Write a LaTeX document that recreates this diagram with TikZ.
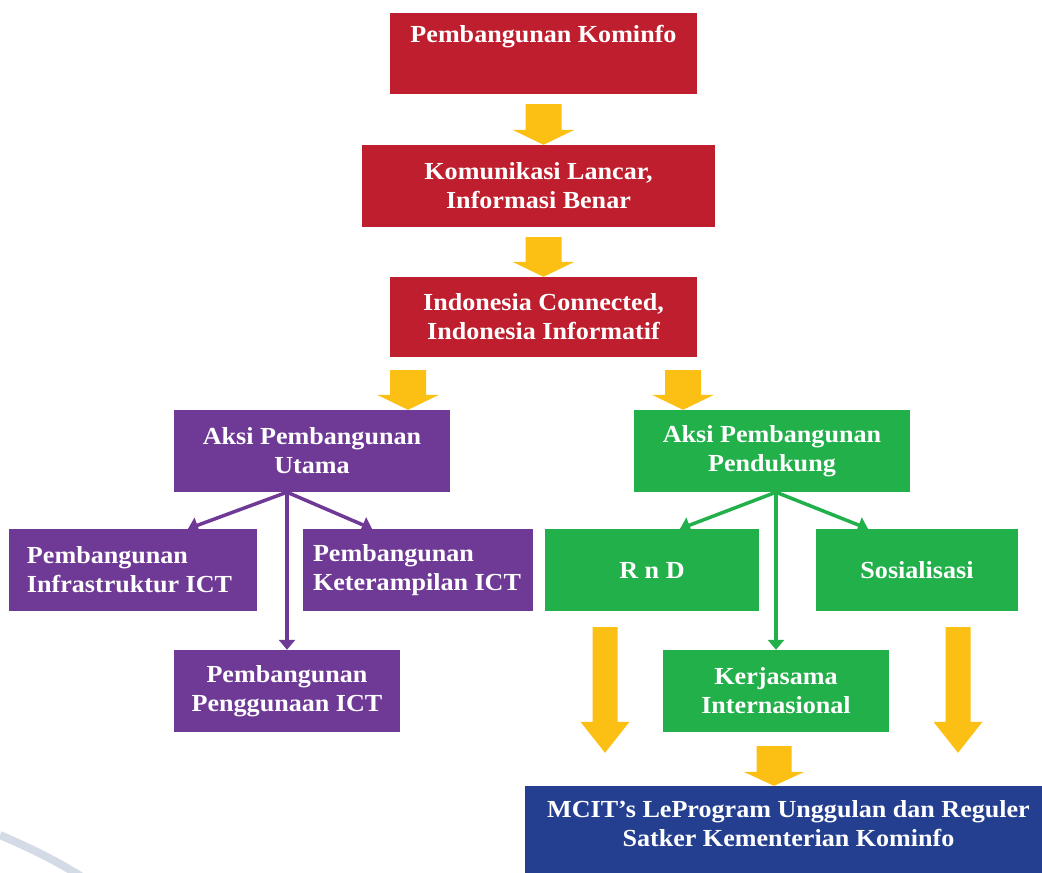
\documentclass[tikz,border=0pt]{standalone}
\usepackage{fontspec}
\setmainfont{Liberation Serif}[FakeStretch=1.065]
\usetikzlibrary{arrows.meta,calc}
\definecolor{kred}{RGB}{190,30,45}
\definecolor{kpurple}{RGB}{111,57,150}
\definecolor{kgreen}{RGB}{34,176,75}
\definecolor{kblue}{RGB}{36,63,143}
\definecolor{kyellow}{RGB}{252,192,21}
\definecolor{kswoosh}{RGB}{212,219,230}
\tikzset{
  box/.style={inner sep=0pt, align=center, text=white, font=\bfseries\fontsize{24.5}{29}\selectfont},
  boxtext/.style={inner sep=0pt, align=center, text=white, font=\bfseries\fontsize{24.5}{29}\selectfont},
  thinarrow/.style={line width=3.5pt, -{Triangle[length=10pt,width=16pt]}},
}
% fat arrow: start point, tip point, shaft half width, head half width, head length
\newcommand{\fatarrow}[5]{%
  \fill[kyellow] ($(#1)+(-#3,0)$) -- ($(#1)+(#3,0)$) -- ($(#2)+(#3,-#5)$) -- ($(#2)+(#4,-#5)$) -- (#2) -- ($(#2)+(-#4,-#5)$) -- ($(#2)+(-#3,-#5)$) -- cycle;}
\begin{document}
\begin{tikzpicture}[x=1pt,y=-1pt]
\useasboundingbox (0,0) rectangle (1042,873);
\fill[white] (0,0) rectangle (1042,873);
\draw[kswoosh, line width=8pt] (0,835) .. controls (30,848) and (55,860) .. (82,877);

\node[box, fill=kred, minimum width=307pt, minimum height=81pt] (kom) at (543.5,53.5) {};
\node[boxtext] (komt) at ($(kom.center)+(0,-17)$) {Pembangunan Kominfo};
\node[box, fill=kred, minimum width=353pt, minimum height=82pt] (lancar) at (538.5,186) {Komunikasi Lancar,\\Informasi Benar};
\node[box, fill=kred, minimum width=307pt, minimum height=80pt] (indo) at (543.5,317) {Indonesia Connected,\\Indonesia Informatif};

\node[box, fill=kpurple, minimum width=276pt, minimum height=82pt] (utama) at (312,451) {Aksi Pembangunan\\Utama};
\node[box, fill=kgreen, minimum width=276pt, minimum height=82pt] (duk) at (772,451) {Aksi Pembangunan\\Pendukung};

\node[box, fill=kpurple, minimum width=248pt, minimum height=82pt] (infra) at (133,570) {};
\node[boxtext, align=left, anchor=west] (infrat) at ($(infra.west)+(18,0)$) {Pembangunan\\Infrastruktur ICT};
\node[box, fill=kpurple, minimum width=230pt, minimum height=82pt] (teram) at (418,570) {};
\node[boxtext, align=left, anchor=west] (teramt) at ($(teram.west)+(10,0)$) {Pembangunan\\Keterampilan ICT};
\node[box, fill=kpurple, minimum width=226pt, minimum height=82pt] (guna) at (287,691) {Pembangunan\\Penggunaan ICT};

\node[box, fill=kgreen, minimum width=214pt, minimum height=82pt] (rnd) at (652,570) {R n D};
\node[box, fill=kgreen, minimum width=202pt, minimum height=82pt] (sos) at (917,570) {Sosialisasi};
\node[box, fill=kgreen, minimum width=226pt, minimum height=82pt] (kerja) at (776,691) {Kerjasama\\Internasional};

\node[box, fill=kblue, minimum width=517pt, minimum height=87pt] (mcit) at (783.5,829.5) {};
\node[boxtext] (mcitt) at ($(mcit.center)+(5,-6)$) {MCIT’s LeProgram Unggulan dan Reguler\\Satker Kementerian Kominfo};

% yellow arrows
\coordinate (a1s) at ($(kom.south)+(0,10)$);
\coordinate (a1e) at (lancar.north -| kom.south);
\fatarrow{a1s}{a1e}{18}{31}{15}
\coordinate (a2s) at ($(lancar.south -| indo.north)+(0,10)$);
\fatarrow{a2s}{indo.north}{18}{31}{15}
\coordinate (xl) at (408,0);
\coordinate (xr) at (683,0);
\coordinate (a3s) at ($(indo.south -| xl)+(0,13)$);
\coordinate (a3e) at (utama.north -| xl);
\fatarrow{a3s}{a3e}{18}{31}{15}
\coordinate (a4s) at ($(indo.south -| xr)+(0,13)$);
\coordinate (a4e) at (duk.north -| xr);
\fatarrow{a4s}{a4e}{18}{31}{15}

\coordinate (xbl) at (605,0);
\coordinate (xbr) at (958,0);
\coordinate (b1s) at ($(rnd.south -| xbl)+(0,16)$);
\coordinate (b1e) at ($(mcit.north -| xbl)+(0,-33)$);
\fatarrow{b1s}{b1e}{12.5}{24.5}{31}
\coordinate (b2s) at ($(sos.south -| xbr)+(0,16)$);
\coordinate (b2e) at ($(mcit.north -| xbr)+(0,-33)$);
\fatarrow{b2s}{b2e}{12.5}{24.5}{31}
\coordinate (xbm) at (774,0);
\coordinate (b3s) at ($(kerja.south -| xbm)+(0,14)$);
\coordinate (b3e) at (mcit.north -| xbm);
\fatarrow{b3s}{b3e}{17.5}{30.5}{14}

% thin arrows
\coordinate (pu) at (utama.south -| guna.north);
\draw[thinarrow, kpurple] (pu) -- ($(infra.north)+(55,0)$);
\draw[thinarrow, kpurple] (pu) -- ($(teram.north)+(-46,0)$);
\draw[thinarrow, kpurple] (pu) -- (guna.north);
\coordinate (gu) at (duk.south -| kerja.north);
\draw[thinarrow, kgreen] (gu) -- ($(rnd.north)+(28,0)$);
\draw[thinarrow, kgreen] (gu) -- ($(sos.north)+(-49,0)$);
\draw[thinarrow, kgreen] (gu) -- (kerja.north);
\end{tikzpicture}
\end{document}
